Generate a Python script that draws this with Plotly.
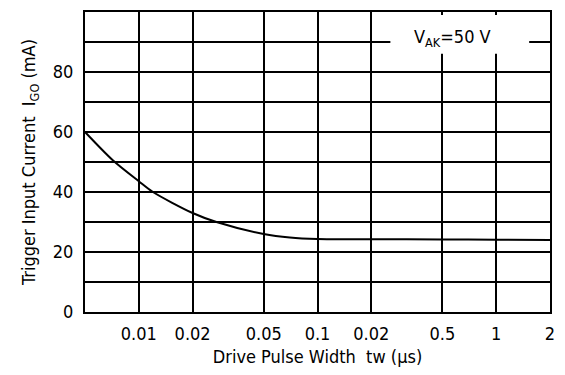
import numpy as np
import plotly.graph_objects as go

# Data
pulse_width_us = [0.005, 0.00718, 0.01, 0.012, 0.02, 0.0272, 0.05, 0.07, 0.1, 0.2, 0.5, 1.0, 2.0]
igo_ma = [60, 50.5, 43.6, 40, 33, 30, 26, 24.8, 24.3, 24.25, 24.2, 24.1, 24.0]

x_tickvals = [0.01, 0.02, 0.05, 0.1, 0.2, 0.5, 1, 2]
x_ticktext = ["0.01", "0.02", "0.05", "0.1", "0.02", "0.5", "1", "2"]
y_tickvals = [0, 20, 40, 60, 80]

FONT = "DejaVu Sans Condensed, Liberation Sans Narrow, Arial Narrow, sans-serif"

fig = go.Figure()
fig.add_trace(go.Scatter(
    x=pulse_width_us, y=igo_ma, mode="lines",
    line=dict(color="black", width=2, shape="spline", smoothing=0.8),
    hoverinfo="skip", showlegend=False,
))

fig.update_layout(
    width=565, height=375,
    margin=dict(l=85, r=11, t=10, b=63),
    paper_bgcolor="white", plot_bgcolor="white",
    font=dict(family=FONT, size=18, color="black"),
    xaxis=dict(
        type="log", range=[np.log10(0.005), np.log10(2)],
        tickvals=x_tickvals, ticktext=x_ticktext,
        showgrid=True, gridcolor="black", gridwidth=1.5,
        showline=True, linecolor="black", linewidth=2, mirror=True,
        ticks="", ticklabelstandoff=4,
        title=dict(text="Drive Pulse Width  tw (μs)", standoff=8, font=dict(size=18)),
        zeroline=False,
    ),
    yaxis=dict(
        range=[0, 100],
        tickvals=y_tickvals,
        showgrid=True, gridcolor="black", gridwidth=1.5,
        minor=dict(dtick=10, showgrid=True, gridcolor="black", gridwidth=1.5, ticks=""),
        showline=True, linecolor="black", linewidth=2, mirror=True,
        ticks="", ticklabelstandoff=6,
        title=dict(text="Trigger Input Current  I<sub>GO</sub> (mA)", standoff=12, font=dict(size=18)),
        zeroline=False,
    ),
    shapes=[dict(
        type="rect", xref="paper", yref="paper",
        x0=(393 - 85) / 469, x1=(533 - 85) / 469,
        y0=(312 - 52) / 302, y1=(312 - 13) / 302,
        fillcolor="white", line=dict(width=0), layer="above",
    )],
    annotations=[dict(
        text="V<sub>AK</sub>=50 V", xref="paper", yref="paper",
        x=(456 - 85) / 469, y=(312 - 36) / 302,
        showarrow=False, font=dict(size=18), xanchor="center", yanchor="middle",
    )],
)

fig.write_html("out.html")
